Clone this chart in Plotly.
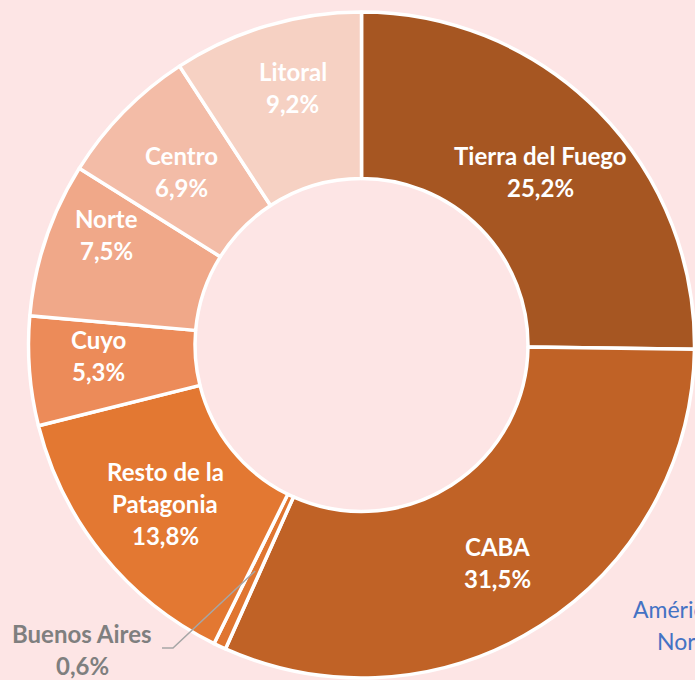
import math
import plotly.graph_objects as go

# ---- data ----
regions = ["Tierra del Fuego", "CABA", "Buenos Aires", "Resto de la Patagonia",
           "Cuyo", "Norte", "Centro", "Litoral"]
label_text = ["Tierra del Fuego", "CABA", "Buenos Aires", "Resto de la<br>Patagonia",
              "Cuyo", "Norte", "Centro", "Litoral"]
shares = [25.2, 31.5, 0.6, 13.8, 5.3, 7.5, 6.9, 9.2]
colors = ["#A65622", "#C06226", "#E07530", "#E37832",
          "#EC8B59", "#F0A889", "#F3BCA7", "#F6D1C3"]

# ---- layout geometry (screen pixels) ----
W, H = 695, 680
BG = "#FDE5E5"
cx, cy, R = 361.5, 345.0, 333.0      # pie centre / radius in pixels
HOLE = 0.5
label_rfrac = [0.75, 0.77, None, 0.757, 0.79, 0.835, 0.75, 0.80]
label_dang = [0.5, 0.5, 0, 0, 2.3, 4.8, -0.5, 1.6]
LINE_GAP = 32
FONT = "Lato"
FS = 24


def to_paper(x, y):
    return x / W, 1 - y / H


fig = go.Figure(go.Pie(
    labels=regions,
    values=shares,
    sort=False,
    direction="clockwise",
    rotation=0,
    hole=HOLE,
    marker=dict(colors=colors, line=dict(color="white", width=3.5)),
    textinfo="none",
    hoverinfo="label+percent",
    showlegend=False,
    domain=dict(x=[(cx - R) / W, min(1.0, (cx + R) / W)],
                y=[1 - (cy + R) / H, 1 - (cy - R) / H]),
))

annotations = []
total = sum(shares)
cum = 0.0
for i, (txt, v) in enumerate(zip(label_text, shares)):
    mid = (cum + v / 2) / total * 360.0
    cum += v
    pct = f"{v:.1f}%".replace(".", ",")
    if label_rfrac[i] is None:
        continue
    ang = math.radians(mid + label_dang[i])
    r = label_rfrac[i] * R
    lx = cx + r * math.sin(ang)
    ly = cy - r * math.cos(ang)
    lines = txt.split("<br>") + [pct]
    n = len(lines)
    for k, line in enumerate(lines):
        yy = ly + (k - (n - 1) / 2) * LINE_GAP
        px, py = to_paper(lx, yy)
        annotations.append(dict(
            x=px, y=py, xref="paper", yref="paper", text=line, showarrow=False,
            xanchor="center", yanchor="middle",
            font=dict(family=FONT, size=FS, color="white", weight="bold"),
        ))

# Buenos Aires outside label with leader line
ba_idx = regions.index("Buenos Aires")
ba_mid = (sum(shares[:ba_idx]) + shares[ba_idx] / 2) / total * 360.0
a = math.radians(ba_mid)
r0 = (HOLE + 1) / 2 * R
sx, sy = cx + r0 * math.sin(a), cy - r0 * math.cos(a)
ex, ey = 173, 648
hx = 162
path_pts = [(sx, sy), (ex, ey), (hx, ey)]
path = "M " + " L ".join("{},{}".format(*to_paper(x, y)) for x, y in path_pts)
shapes = [dict(type="path", xref="paper", yref="paper", path=path,
               line=dict(color="#A6A6A6", width=1.5))]
for line, yy in [("Buenos Aires", 633), (f"{shares[ba_idx]:.1f}%".replace(".", ","), 665)]:
    px, py = to_paper(82, yy)
    annotations.append(dict(
        x=px, y=py, xref="paper", yref="paper", text=line, showarrow=False,
        xanchor="center", yanchor="middle",
        font=dict(family=FONT, size=FS, color="#7F7F7F", weight="bold"),
    ))

# partially visible text at bottom right (cut by the chart edge, as in the reference)
for line, xl, yy in [("América del", 631, 609), ("Norte", 655, 641)]:
    px, py = to_paper(xl, yy)
    annotations.append(dict(
        x=px, y=py, xref="paper", yref="paper", text=line, showarrow=False,
        xanchor="left", yanchor="middle",
        font=dict(family=FONT, size=23, color="#4472C4"),
    ))

fig.update_layout(
    width=W, height=H,
    margin=dict(l=0, r=0, t=0, b=0),
    paper_bgcolor=BG, plot_bgcolor=BG,
    annotations=annotations,
    shapes=shapes,
)

fig.write_html(
    "out.html",
    config={"displayModeBar": False},
    post_script=("document.body.style.margin='0';"
                 "document.body.style.overflow='hidden';"
                 "document.documentElement.style.overflow='hidden';"),
)
